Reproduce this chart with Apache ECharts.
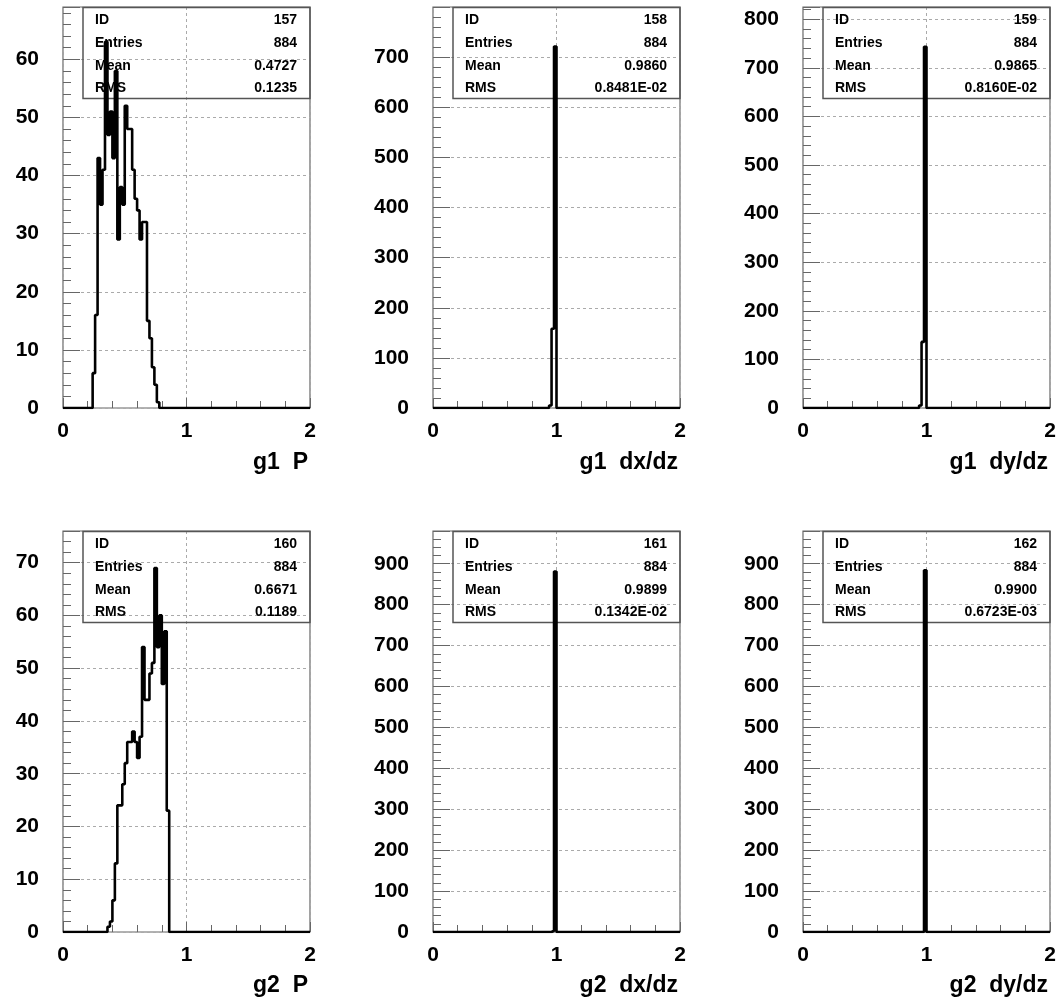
<!DOCTYPE html>
<html>
<head>
<meta charset="utf-8">
<script src="https://cdn.jsdelivr.net/npm/echarts@6/dist/echarts.min.js"></script>
<style>
    html, body { margin: 0; padding: 0; background: #fff; }
    #main { width: 1059px; height: 1008px; }
</style>
</head>
<body>
<div id="main"></div>
<script>
    // 100 bins of 0.02 from 0 to 2, counts
    const binWidth = 0.02;
    const nBins = 100;

    const g1P_first = 12;
    const g1P_counts = [6, 16, 43, 35, 41, 63, 47, 51, 43, 58, 29, 38, 35, 52, 48, 48, 41, 36, 34, 29, 32, 32, 15, 12, 7, 4, 1];
    const g1Dx_first = 47;
    const g1Dx_counts = [5, 158, 721];
    const g1Dy_first = 47;
    const g1Dy_counts = [5, 136, 743];
    const g2P_first = 18;
    const g2P_counts = [1, 2, 6, 13, 24, 24, 28, 32, 36, 36, 38, 36, 33, 37, 54, 44, 44, 49, 51, 69, 54, 60, 47, 57, 23];
    const g2Dx_first = 48;
    const g2Dx_counts = [3, 881];
    const g2Dy_first = 49;
    const g2Dy_counts = [884];

    const titles = ['g1  P', 'g1  dx/dz', 'g1  dy/dz', 'g2  P', 'g2  dx/dz', 'g2  dy/dz'];
    const ids = ['157', '158', '159', '160', '161', '162'];
    const entries = ['884', '884', '884', '884', '884', '884'];
    const means = ['0.4727', '0.9860', '0.9865', '0.6671', '0.9899', '0.9900'];
    const rmsValues = ['0.1235', '0.8481E-02', '0.8160E-02', '0.1189', '0.1342E-02', '0.6723E-03'];
    const yMax = [69, 800, 825, 76, 980, 980];
    const yStep = [10, 100, 100, 10, 100, 100];
    const xTicks = [0, 1, 2];

    const hists = [
        [g1P_first, g1P_counts], [g1Dx_first, g1Dx_counts], [g1Dy_first, g1Dy_counts],
        [g2P_first, g2P_counts], [g2Dx_first, g2Dx_counts], [g2Dy_first, g2Dy_counts]
    ];

    function histPoints(first, counts) {
        let pts = [];
        for (let k = 0; k <= nBins; k++) {
            let c = (k >= first && k < first + counts.length) ? counts[k - first] : 0;
            pts.push([+(k * binWidth).toFixed(2), c]);
        }
        return pts;
    }

    const lefts = [63, 433, 803];
    const tops = [7, 531];
    const plotW = 247;
    const plotH = 401;
    const font = '"Liberation Sans", Arial, Helvetica, sans-serif';

    let grids = [], xAxes = [], yAxes = [], series = [], titleList = [], graphics = [];

    for (let i = 0; i < 6; i++) {
        let col = i % 3, row = Math.floor(i / 3);
        let left = lefts[col], top = tops[row];
        grids.push({
            left: left, top: top, width: plotW, height: plotH,
            show: true, borderColor: '#666', borderWidth: 1.2, backgroundColor: 'transparent'
        });
        xAxes.push({
            type: 'value', gridIndex: i, min: xTicks[0], max: xTicks[2], interval: 1,
            axisLine: {show: false},
            axisTick: {show: true, inside: true, length: 10, lineStyle: {color: '#666'}},
            minorTick: {show: true, splitNumber: 5, length: 7, lineStyle: {color: '#666'}},
            axisLabel: {color: '#000', fontSize: 21, fontWeight: 'bold', fontFamily: font, margin: 13},
            splitLine: {show: true, lineStyle: {color: '#aaa', type: [3, 3], width: 1}}
        });
        yAxes.push({
            type: 'value', gridIndex: i, min: 0, max: yMax[i], interval: yStep[i],
            axisLine: {show: false},
            axisTick: {show: true, inside: true, length: 17, lineStyle: {color: '#666'}},
            minorTick: {show: true, splitNumber: 5, length: 8, lineStyle: {color: '#666'}},
            axisLabel: {color: '#000', fontSize: 21, fontWeight: 'bold', fontFamily: font, margin: 24, showMaxLabel: false},
            splitLine: {show: true, lineStyle: {color: '#aaa', type: [3, 3], width: 1}}
        });
        series.push({
            type: 'line', xAxisIndex: i, yAxisIndex: i,
            step: 'end', symbol: 'none', z: 5, clip: true,
            lineStyle: {color: '#000', width: 2.6},
            data: histPoints(hists[i][0], hists[i][1])
        });
        titleList.push({
            text: titles[i], right: 1059 - (left + plotW) + 2, top: row === 0 ? 451 : 974, padding: 0,
            textStyle: {fontSize: 23, fontWeight: 'bold', fontFamily: font, color: '#000'}
        });

        // stats box
        let boxLeft = left + 20;
        let boxTop = top + 0.5;
        let boxW = left + plotW - boxLeft;
        let boxH = 91;
        graphics.push({
            type: 'rect', z: 1,
            shape: {x: boxLeft, y: boxTop, width: boxW, height: boxH},
            style: {fill: 'none', stroke: '#555', lineWidth: 1.5}
        });
        let rowsY = [13, 35.5, 58.5, 81];
        let labels = ['ID', 'Entries', 'Mean', 'RMS'];
        let vals = [ids[i], entries[i], means[i], rmsValues[i]];
        for (let r = 0; r < 4; r++) {
            graphics.push({
                type: 'text', z: 1,
                style: {
                    text: labels[r], x: boxLeft + 12, y: boxTop + rowsY[r],
                    font: 'bold 14px ' + font, fill: '#000',
                    align: 'left', verticalAlign: 'middle', textAlign: 'left', textVerticalAlign: 'middle'
                }
            });
            graphics.push({
                type: 'text', z: 1,
                style: {
                    text: vals[r], x: left + plotW - 13, y: boxTop + rowsY[r],
                    font: 'bold 14px ' + font, fill: '#000',
                    align: 'right', verticalAlign: 'middle', textAlign: 'right', textVerticalAlign: 'middle'
                }
            });
        }
    }

    let myChart = echarts.init(document.getElementById('main'), null, {renderer: 'canvas'});
    let option = {
        animation: false,
        backgroundColor: '#fff',
        title: titleList,
        grid: grids,
        xAxis: xAxes,
        yAxis: yAxes,
        series: series,
        graphic: graphics
    };
    myChart.setOption(option);
</script>
</body>
</html>
